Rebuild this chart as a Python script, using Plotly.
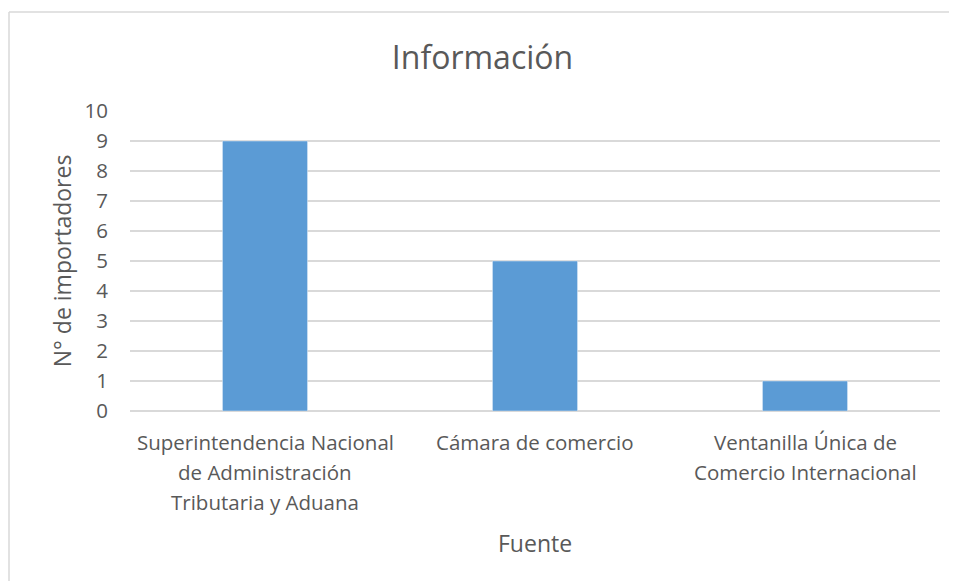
import plotly.graph_objects as go

categories = [
    "Superintendencia Nacional<br>de Administración<br>Tributaria y Aduana",
    "Cámara de comercio",
    "Ventanilla Única de<br>Comercio Internacional",
]
values = [9, 5, 1]
y_ticks = list(range(0, 11))

FONT = "Open Sans"
GRAY = "#595959"

# page body has an 8px margin, so work in window pixels minus 8
OFF = 8
W, H = 957 - OFF, 581 - OFF
L, T = 130 - OFF, 111 - OFF
R = W - (940 - OFF)
B = H - (411 - OFF)
pw, ph = W - L - R, H - T - B

def px(x):
    return (x - OFF - L) / pw

def py(y):
    return (H - B - (y - OFF)) / ph

fig = go.Figure(go.Bar(
    x=categories, y=values, marker_color="#5b9bd5", width=0.315,
))

# category labels, one annotation per line for Excel-like line spacing
annotations = []
for cat in categories:
    for i, line in enumerate(cat.split("<br>")):
        annotations.append(dict(
            x=cat, y=0, xref="x", yref="y", text=line, showarrow=False,
            yanchor="middle", xanchor="center", yshift=-(31 + 30 * i),
            font=dict(size=20.5, color=GRAY, family=FONT),
        ))
annotations.append(dict(
    x=0.5, y=py(543), xref="paper", yref="paper", text="Fuente", showarrow=False,
    yanchor="middle", xanchor="center", font=dict(size=23, color=GRAY, family=FONT),
))

fig.update_layout(
    width=W, height=H,
    margin=dict(l=L, r=R, t=T, b=B),
    paper_bgcolor="white", plot_bgcolor="white",
    font=dict(family=FONT, color=GRAY, size=20),
    title=dict(text="Información", x=0.5, xanchor="center", y=1 - (58 - OFF) / H, yanchor="middle",
               font=dict(size=32, color=GRAY, family=FONT)),
    showlegend=False,
    xaxis=dict(
        showgrid=False, showline=False, ticks="", showticklabels=False,
    ),
    yaxis=dict(
        range=[0, 10], tickvals=y_ticks, showgrid=True, gridcolor="#d9d9d9", gridwidth=1.5,
        zeroline=True, zerolinecolor="#d9d9d9", zerolinewidth=1.5,
        showline=False, ticks="", ticklabelstandoff=21,
        tickfont=dict(size=20.5, color=GRAY),
        title=dict(text="N° de importadores", font=dict(size=23, color=GRAY), standoff=6),
    ),
    annotations=annotations,
    shapes=[
        dict(type="line", xref="paper", yref="paper", x0=px(9), x1=px(960), y0=py(12), y1=py(12),
             line=dict(color="#d9d9d9", width=1.5), layer="below"),
        dict(type="line", xref="paper", yref="paper", x0=px(9), x1=px(9), y0=py(12), y1=py(590),
             line=dict(color="#d9d9d9", width=1.5), layer="below"),
    ],
)

fig.write_html("out.html")
